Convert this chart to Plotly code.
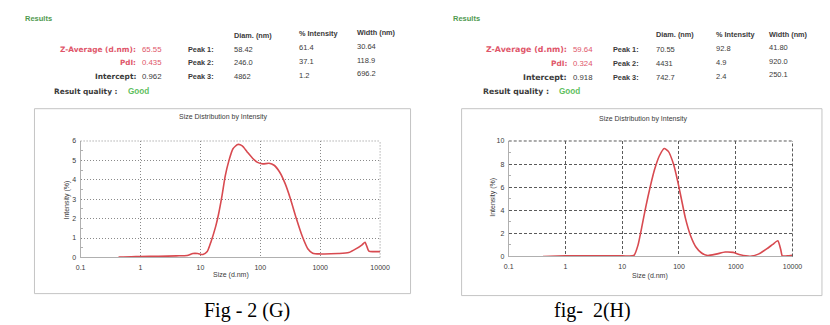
import plotly.graph_objects as go

# ---------------- data ----------------
size_g = [0.43, 0.7, 1.0, 2.0, 4.0, 6.0, 7.5, 9.0, 11.0, 13.0, 15.0, 18.0, 20.0, 23.0, 26.0,
          30.0, 35.0, 42.0, 50.0, 60.0, 75.0, 90.0, 110.0, 140.0, 170.0, 210.0, 260.0, 320.0,
          400.0, 500.0, 620.0, 750.0, 1000.0, 2000.0, 3000.0, 4000.0, 5000.0, 5600.0, 6500.0,
          8000.0, 10000.0]
int_g = [0.02, 0.03, 0.05, 0.06, 0.08, 0.1, 0.2, 0.2, 0.15, 0.3, 0.8, 1.6, 2.2, 3.2, 4.2,
         5.0, 5.6, 5.82, 5.75, 5.45, 5.1, 4.9, 4.82, 4.85, 4.75, 4.4, 3.8, 3.0,
         2.0, 1.1, 0.45, 0.22, 0.18, 0.2, 0.25, 0.45, 0.65, 0.78, 0.32,
         0.3, 0.3]

size_h = [0.4, 1.0, 3.0, 10.0, 16.0, 19.0, 22.0, 26.0, 31.0, 37.0, 45.0, 55.0, 65.0, 80.0,
          95.0, 110.0, 130.0, 160.0, 200.0, 250.0, 320.0, 450.0, 650.0, 900.0, 1200.0,
          1800.0, 2500.0, 3500.0, 4500.0, 5500.0, 6200.0, 6600.0, 8000.0, 10000.0]
int_h = [0.0, 0.05, 0.05, 0.05, 0.08, 1.0, 2.5, 4.3, 6.0, 7.5, 8.7, 9.35, 9.1, 8.0,
         6.5, 5.0, 3.3, 1.8, 0.8, 0.3, 0.08, 0.2, 0.38, 0.35, 0.15,
         0.02, 0.2, 0.65, 1.05, 1.35, 0.6, 0.05, 0.05, 0.1]

x_tickvals = [0.1, 1, 10, 100, 1000, 10000]
x_ticktext = ["0.1", "1", "10", "100", "1000", "10000"]

# results tables
summary_labels = ["Z-Average (d.nm):", "PdI:", "Intercept:"]
g_summary = ["65.55", "0.435", "0.962"]
h_summary = ["59.64", "0.324", "0.918"]
peak_headers = ["Diam. (nm)", "% Intensity", "Width (nm)"]
peak_labels = ["Peak 1:", "Peak 2:", "Peak 3:"]
g_peaks = [["58.42", "61.4", "30.64"], ["246.0", "37.1", "118.9"], ["4862", "1.2", "696.2"]]
h_peaks = [["70.55", "92.8", "41.80"], ["4431", "4.9", "920.0"], ["742.7", "2.4", "250.1"]]
captions = ["Fig - 2 (G)", "fig-\u00a0\u00a02(H)"]

# ---------------- style ----------------
W, H = 830, 325
RED = "#d84a50"
TXT = "#3a3a3a"
PINK = "#e0566a"
GREEN = "#4f9a4f"
LGREEN = "#5fbf5f"
SANS = "Liberation Sans, Arial, sans-serif"
WIDE = "DejaVu Sans, Verdana, sans-serif"
GRID_G = "1px,2px"
GRID_H = "3px,2px"


def px(x):
    return x / W


def py(y):
    return 1 - y / H


fig = go.Figure()
fig.add_trace(go.Scatter(x=size_g, y=int_g, mode="lines", line=dict(color=RED, width=1.6, shape="spline", smoothing=0.6),
                         xaxis="x", yaxis="y", showlegend=False, hoverinfo="x+y"))
fig.add_trace(go.Scatter(x=size_h, y=int_h, mode="lines", line=dict(color=RED, width=1.6, shape="spline", smoothing=0.6),
                         xaxis="x2", yaxis="y2", showlegend=False, hoverinfo="x+y"))

xcommon = dict(type="log", range=[-1, 4], tickvals=x_tickvals, ticktext=x_ticktext,
               tickfont=dict(family=SANS, size=7, color=TXT), showline=True, linecolor="#b0b0b0",
               linewidth=1, zeroline=False, ticks="", showgrid=True, gridwidth=1, fixedrange=True,
               ticklabelstandoff=3)
ycommon = dict(tickfont=dict(family=SANS, size=7, color=TXT), showline=True, linecolor="#b0b0b0",
               linewidth=1, zeroline=False, ticks="", showgrid=True, gridwidth=1, fixedrange=True,
               ticklabelstandoff=2)

fig.update_layout(
    width=W, height=H, margin=dict(l=0, r=0, t=0, b=0),
    paper_bgcolor="white", plot_bgcolor="white",
    xaxis=dict(xcommon, domain=[px(77), px(382)], anchor="y", griddash=GRID_G, gridcolor="#8a8a8a"),
    yaxis=dict(ycommon, domain=[py(259), py(140)], anchor="x", range=[0, 6], dtick=1, griddash=GRID_G,
               gridcolor="#8a8a8a",
               minor=dict(ticks="inside", ticklen=2, dtick=0.5, tickcolor="#b0b0b0", showgrid=False)),
    xaxis2=dict(xcommon, domain=[px(513), px(802)], anchor="y2", griddash=GRID_H, gridcolor="#5a5a5a"),
    yaxis2=dict(ycommon, domain=[py(258), py(140)], anchor="x2", range=[0, 10], dtick=2, griddash=GRID_H,
                gridcolor="#5a5a5a",
                minor=dict(ticks="inside", ticklen=2, dtick=1, tickcolor="#b0b0b0", showgrid=False)),
)

shapes = []
# report frames
shapes.append(dict(type="rect", xref="paper", yref="paper", x0=px(30), x1=px(413), y0=py(296), y1=py(107),
                   line=dict(color="#c4c4c4", width=1)))
shapes.append(dict(type="rect", xref="paper", yref="paper", x0=px(465), x1=px(832), y0=py(298), y1=py(107),
                   line=dict(color="#c4c4c4", width=1)))
# dotted/dashed top and right borders of plots
for xa, ya, dash, col in (("x", "y", GRID_G, "#8a8a8a"), ("x2", "y2", GRID_H, "#5a5a5a")):
    shapes.append(dict(type="line", xref=xa + " domain", yref=ya + " domain", x0=0, x1=1, y0=1, y1=1,
                       line=dict(color=col, width=1, dash=dash)))
    shapes.append(dict(type="line", xref=xa + " domain", yref=ya + " domain", x0=1, x1=1, y0=0, y1=1,
                       line=dict(color=col, width=1, dash=dash)))
fig.update_layout(shapes=shapes)

ann = []


def text(x, y, s, size=8, color=TXT, anchor="left", bold=False, family=SANS, angle=0):
    if bold:
        s = "<b>" + s + "</b>"
    ann.append(dict(xref="paper", yref="paper", x=px(x), y=py(y), text=s, showarrow=False,
                    xanchor=anchor, yanchor="middle", textangle=angle, borderpad=0,
                    font=dict(family=family, size=size, color=color)))


def panel(values, peaks, lab_right, q_right, peak_right, cols, hdr_y, row_y, chart_cx, chart_ty,
          axis_cx, axis_ty, ylab_x, ylab_y, results_x, lab_sizes, q_size):
    text(results_x, 15, "Results", 7.5, GREEN, bold=True)
    colors = [PINK, PINK, TXT]
    for i, k in enumerate(summary_labels):
        text(lab_right, row_y[i], k, lab_sizes[i], colors[i], anchor="right", bold=True, family=WIDE)
        text(lab_right + 4, row_y[i], values[i], 7.8, colors[i])
    text(q_right, 89, "Result quality :", q_size, TXT, anchor="right", bold=True, family=WIDE)
    text(q_right + 8, 89, "Good", 8.2, LGREEN, bold=True)
    for j, h in enumerate(peak_headers):
        text(cols[j], hdr_y[j], h, 7.3, TXT, bold=True)
    for i, lab in enumerate(peak_labels):
        text(peak_right, row_y[i], lab, 7.3, TXT, anchor="right", bold=True)
        for j in range(3):
            text(cols[j], row_y[i] - 1.3 * j, peaks[i][j], 7.5, TXT)
    text(chart_cx, chart_ty, "Size Distribution by Intensity", 7, TXT, anchor="center")
    text(axis_cx, axis_ty, "Size (d.nm)", 7, TXT, anchor="center")
    text(ylab_x, ylab_y, "Intensity (%)", 7, TXT, anchor="center", angle=-90)


panel(g_summary, g_peaks, 134, 116, 214, [232, 298, 357], [32, 30, 29], [46, 60, 74],
      222, 115, 230, 277, 63, 200, 19, [7.4, 7.2, 7.4], 7.4)
panel(h_summary, h_peaks, 573, 555, 647, [662, 723, 777], [31, 31, 31], [47, 61, 75],
      650, 118, 657, 278, 497, 198, 455, [7.9, 7.4, 7.8], 7.7)

text(246, 313, captions[0], 20, "black", anchor="center", family="Liberation Serif, Times New Roman, serif")
text(598, 313, captions[1], 20, "black", anchor="center", family="Liberation Serif, Times New Roman, serif")

fig.update_layout(annotations=ann)
fig.write_html("out.html", config={"displayModeBar": False},
               post_script="document.body.style.margin='0px';document.body.style.overflow='hidden';")
